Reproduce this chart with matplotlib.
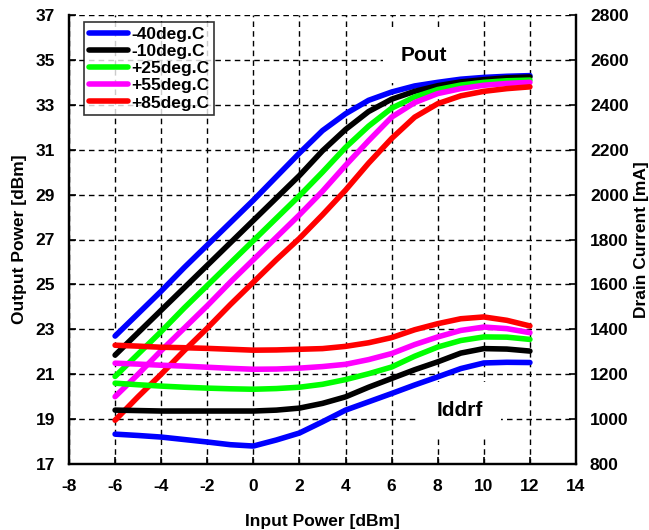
import matplotlib
matplotlib.use("Agg")
import matplotlib.pyplot as plt

plt.rcParams['font.family'] = ['Liberation Sans', 'DejaVu Sans']
plt.rcParams['font.weight'] = 'bold'
plt.rcParams['axes.unicode_minus'] = False

# Input power sweep [dBm]
pin = [-6, -5, -4, -3, -2, -1, 0, 1, 2, 3, 4, 5, 6, 7, 8, 9, 10, 11, 12]

temps = ['-40deg.C', '-10deg.C', '+25deg.C', '+55deg.C', '+85deg.C']
colors = ['#0000ff', '#000000', '#00ff00', '#ff00ff', '#ff0000']

# Output power [dBm] per temperature
pout_m40 = [22.7, 23.7, 24.7, 25.75, 26.75, 27.75, 28.75, 29.8, 30.85, 31.85,
            32.6, 33.2, 33.57, 33.84, 34.0, 34.14, 34.22, 34.27, 34.3]
pout_m10 = [21.85, 22.85, 23.85, 24.85, 25.85, 26.85, 27.85, 28.85, 29.85, 30.95,
            31.9, 32.7, 33.25, 33.6, 33.85, 34.02, 34.12, 34.2, 34.24]
pout_p25 = [20.9, 21.9, 22.9, 23.95, 24.95, 25.95, 26.95, 27.95, 28.95, 30.0,
            31.1, 32.05, 32.85, 33.35, 33.68, 33.88, 34.0, 34.07, 34.1]
pout_p55 = [20.0, 21.0, 22.05, 23.05, 24.05, 25.1, 26.1, 27.1, 28.1, 29.15,
            30.3, 31.4, 32.45, 33.1, 33.5, 33.72, 33.87, 33.95, 34.0]
pout_p85 = [18.95, 20.0, 21.0, 22.05, 23.05, 24.1, 25.1, 26.1, 27.05, 28.1,
            29.2, 30.4, 31.5, 32.45, 33.05, 33.4, 33.6, 33.72, 33.8]

# Drain current [mA] per temperature
idd_m40 = [933, 927, 920, 909, 898, 886, 880, 907, 938, 988,
           1040, 1077, 1114, 1152, 1188, 1225, 1250, 1253, 1252]
idd_m10 = [1040, 1038, 1036, 1036, 1036, 1036, 1036, 1040, 1049, 1070,
           1099, 1142, 1181, 1220, 1255, 1294, 1314, 1312, 1303]
idd_p25 = [1160, 1153, 1147, 1142, 1138, 1135, 1133, 1136, 1142, 1155,
           1176, 1202, 1232, 1280, 1321, 1350, 1366, 1365, 1355]
idd_p55 = [1249, 1245, 1240, 1236, 1231, 1226, 1222, 1223, 1227, 1234,
           1244, 1265, 1292, 1332, 1366, 1395, 1410, 1403, 1385]
idd_p85 = [1329, 1325, 1320, 1318, 1315, 1311, 1307, 1308, 1311, 1314,
           1324, 1340, 1363, 1398, 1425, 1447, 1455, 1440, 1415]

pout_sets = [pout_m40, pout_m10, pout_p25, pout_p55, pout_p85]
idd_sets = [idd_m40, idd_m10, idd_p25, idd_p55, idd_p85]

x_ticks = list(range(-8, 15, 2))
pout_ticks = list(range(17, 38, 2))
idd_ticks = list(range(800, 2801, 200))

fig = plt.figure(figsize=(6.49, 5.30), dpi=100)
ax = fig.add_axes([69 / 649, 66 / 530, 507 / 649, 449 / 530])
ax2 = ax.twinx()

lw = 4.0
handles = []
for p, c, t in zip(pout_sets, colors, temps):
    h, = ax.plot(pin, p, color=c, lw=lw, solid_capstyle='round',
                 solid_joinstyle='round', label=t, zorder=3)
    handles.append(h)
for i_, c in zip(idd_sets, colors):
    ax2.plot(pin, i_, color=c, lw=lw, solid_capstyle='round',
             solid_joinstyle='round', zorder=3)

ax.set_xlim(-8, 14)
ax.set_ylim(17, 37)
ax2.set_ylim(800, 2800)
ax.set_xticks(x_ticks)
ax.set_yticks(pout_ticks)
ax2.set_yticks(idd_ticks)

ax.grid(True, color='black', linestyle=(0, (4, 3)), linewidth=1.0, zorder=1)
ax.set_axisbelow(True)

for a in (ax, ax2):
    a.spines['top'].set_visible(False)
    for s in ('left', 'right', 'bottom'):
        a.spines[s].set_linewidth(1.6)
ax.tick_params(axis='x', direction='in', length=5, width=1.2,
               labelsize=12.5, pad=11)
ax.tick_params(axis='y', direction='in', length=5, width=1.2,
               labelsize=12.5, pad=10)
ax2.tick_params(axis='y', direction='in', length=5, width=1.2,
                labelsize=12.5, pad=10)
for lab in ax.get_xticklabels() + ax.get_yticklabels() + ax2.get_yticklabels():
    lab.set_fontweight('bold')

ax.set_xlabel('Input Power [dBm]', fontsize=12.5, fontweight='bold', labelpad=14)
ax.set_ylabel('Output Power [dBm]', fontsize=12.5, fontweight='bold', labelpad=6)
ax2.set_ylabel('Drain Current [mA]', fontsize=12.5, fontweight='bold', labelpad=4)

box = dict(facecolor='white', edgecolor='none', pad=13)
ax.text(7.4, 35.2, 'Pout', fontsize=15, fontweight='bold', ha='center',
        va='center', bbox=box, zorder=2)
ax2.text(8.95, 1040, 'Iddrf', fontsize=15, fontweight='bold', ha='center',
         va='center', bbox=box, zorder=2)

leg = ax2.legend(handles=handles, loc='upper left', bbox_to_anchor=(0.03, 0.985),
                 fontsize=12.5, frameon=True, fancybox=False, edgecolor='black',
                 handlelength=2.3, handletextpad=0.15, borderpad=0.25,
                 labelspacing=0.05, borderaxespad=0.0, handleheight=0.9)
leg.get_frame().set_linewidth(1.2)
for txt in leg.get_texts():
    txt.set_fontweight('bold')

fig.savefig('out.png', dpi=100)
